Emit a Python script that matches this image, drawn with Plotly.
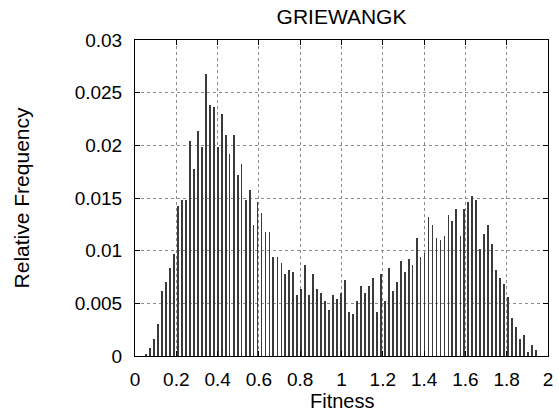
import plotly.graph_objects as go

# Bin centres (Fitness) and relative frequencies
fitness = [0.054, 0.073, 0.093, 0.112, 0.131, 0.150, 0.170, 0.189, 0.208, 0.227,
           0.247, 0.266, 0.285, 0.304, 0.324, 0.343, 0.362, 0.381, 0.401, 0.420,
           0.439, 0.458, 0.478, 0.497, 0.516, 0.536, 0.555, 0.574, 0.593, 0.613,
           0.632, 0.651, 0.670, 0.690, 0.709, 0.728, 0.747, 0.767, 0.786, 0.805,
           0.824, 0.844, 0.863, 0.882, 0.901, 0.921, 0.940, 0.959, 0.978, 0.998,
           1.017, 1.036, 1.056, 1.075, 1.094, 1.113, 1.133, 1.152, 1.171, 1.190,
           1.210, 1.229, 1.248, 1.267, 1.287, 1.306, 1.325, 1.344, 1.364, 1.383,
           1.402, 1.421, 1.441, 1.460, 1.479, 1.499, 1.518, 1.537, 1.556, 1.576,
           1.595, 1.614, 1.633, 1.653, 1.672, 1.691, 1.710, 1.730, 1.749, 1.768,
           1.787, 1.807, 1.826, 1.845, 1.864, 1.884, 1.903, 1.922, 1.941]

rel_freq = [0.0002, 0.00076, 0.0016, 0.0030, 0.0062, 0.0070, 0.0084, 0.0097, 0.0142, 0.0148,
            0.0148, 0.0204, 0.0178, 0.0214, 0.0198, 0.0268, 0.0238, 0.0236, 0.0198, 0.0230,
            0.0210, 0.0192, 0.0210, 0.0172, 0.0182, 0.0148, 0.0158, 0.0124, 0.0146, 0.0136,
            0.0118, 0.0118, 0.0094, 0.0094, 0.0088, 0.0078, 0.0082, 0.0080, 0.0058, 0.0064,
            0.0086, 0.0058, 0.0078, 0.0064, 0.0060, 0.0052, 0.0044, 0.0058, 0.0054, 0.0060,
            0.0072, 0.0042, 0.0040, 0.0052, 0.0066, 0.0060, 0.0066, 0.0074, 0.0042, 0.0078,
            0.0052, 0.0084, 0.0062, 0.0070, 0.0090, 0.0080, 0.0092, 0.0086, 0.0112, 0.0094,
            0.0098, 0.0132, 0.0124, 0.0112, 0.0110, 0.0114, 0.0134, 0.0128, 0.0140, 0.0114,
            0.0140, 0.0146, 0.0152, 0.0148, 0.0102, 0.0116, 0.0124, 0.0106, 0.0082, 0.0074,
            0.0068, 0.0056, 0.0036, 0.0028, 0.0016, 0.0020, 0.0004, 0.0010, 0.0006]

x_tickvals = [0, 0.2, 0.4, 0.6, 0.8, 1.0, 1.2, 1.4, 1.6, 1.8, 2.0]
x_ticktext = ["0", "0.2", "0.4", "0.6", "0.8", "1", "1.2", "1.4", "1.6", "1.8", "2"]
y_tickvals = [0, 0.005, 0.01, 0.015, 0.02, 0.025, 0.03]
y_ticktext = ["0", "0.005", "0.01", "0.015", "0.02", "0.025", "0.03"]

FONT = "Liberation Sans, Arial, Helvetica, sans-serif"

fig = go.Figure()
fig.add_trace(go.Bar(
    x=fitness, y=rel_freq, width=0.004,
    marker=dict(color="#3a3a3a", line=dict(width=0)),
    showlegend=False,
))

axis_common = dict(
    showline=True, linecolor="black", linewidth=1, mirror="allticks",
    ticks="inside", ticklen=5, tickcolor="black", tickwidth=1,
    showgrid=True, gridcolor="#8c8c8c", gridwidth=1, griddash="dot",
    zeroline=False,
    tickfont=dict(family=FONT, size=19, color="black"),
)

fig.update_xaxes(range=[0, 2], tickmode="array", tickvals=x_tickvals,
                 ticktext=x_ticktext, ticklabelstandoff=6, **axis_common)
fig.update_yaxes(range=[0, 0.03], tickmode="array", tickvals=y_tickvals,
                 ticktext=y_ticktext, ticklabelstandoff=8, **axis_common)

fig.update_layout(
    width=559, height=413,
    margin=dict(l=135, r=6, t=40, b=57, pad=0),
    paper_bgcolor="white", plot_bgcolor="white",
    font=dict(family=FONT, color="black"),
    title=dict(text="GRIEWANGK", x=0.5, xref="paper", y=1 - 17 / 413,
               yref="container", xanchor="center", yanchor="middle",
               font=dict(family=FONT, size=21, color="black")),
    annotations=[
        dict(text="Fitness", xref="paper", yref="paper", x=0.5, y=-0.142,
             xanchor="center", yanchor="middle", showarrow=False,
             font=dict(family=FONT, size=20, color="black")),
        dict(text="Relative Frequency", xref="paper", yref="paper", x=-0.275, y=0.5,
             xanchor="center", yanchor="middle", textangle=-90, showarrow=False,
             font=dict(family=FONT, size=21, color="black")),
    ],
    bargap=0,
)

fig.write_html("out.html", config={"displayModeBar": False},
               post_script="document.body.style.margin='0';document.body.style.overflow='hidden';")
